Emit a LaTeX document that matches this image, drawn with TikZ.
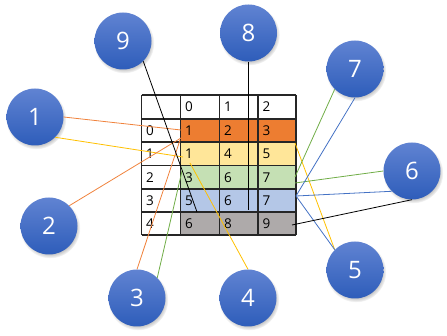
\documentclass[tikz,border=0pt]{standalone}
\usepackage{fontspec}
\setmainfont{Open Sans}
\usetikzlibrary{shadows}

\definecolor{ballTop}{RGB}{96,131,210}
\definecolor{ballBottom}{RGB}{46,93,186}
\definecolor{rowOrange}{RGB}{237,125,49}
\definecolor{rowYellow}{RGB}{255,230,153}
\definecolor{rowGreen}{RGB}{197,224,180}
\definecolor{rowBlue}{RGB}{180,199,231}
\definecolor{rowGray}{RGB}{174,170,170}
\definecolor{lnOrange}{RGB}{240,130,60}
\definecolor{lnYellow}{RGB}{255,192,0}
\definecolor{lnGreen}{RGB}{112,173,71}
\definecolor{lnBlue}{RGB}{68,114,196}

\begin{document}
\begin{tikzpicture}[x=1pt,y=-1pt,
    ball/.style={circle,minimum size=57pt,inner sep=0pt,top color=ballTop,bottom color=ballBottom,
      text=white,font=\fontsize{24}{24}\selectfont,
      circular drop shadow={shadow xshift=1pt,shadow yshift=-2pt,shadow scale=1.06,opacity=0.45}},
    cell/.style={anchor=west,inner sep=0pt,font=\fontsize{13.5}{14}\selectfont},
    grid/.style={black!85,line width=1.1pt},
    link/.style={line width=0.8pt}]
\useasboundingbox (0,0) rectangle (447,336);

% table
\fill[rowOrange] (180.5,119) rectangle (296,142);
\fill[rowYellow] (180.5,142) rectangle (296,165.5);
\fill[rowGreen] (180.5,165.5) rectangle (296,189);
\fill[rowBlue] (180.5,189) rectangle (296,212);
\fill[rowGray] (180.5,212) rectangle (296,235);
\foreach \y in {95,119,142,165.5,189,212,235}
  \draw[grid] (141.5,\y) -- (296,\y);
\foreach \x in {141.5,180.5,219.5,258,296}
  \draw[grid] (\x,95) -- (\x,235);

\node[cell] (h0) at (185,107) {0};
\node[cell] (h1) at (224,107) {1};
\node[cell] (h2) at (262.5,107) {2};
\foreach \r/\y/\a/\b/\c in {0/130.5/1/2/3, 1/153.75/1/4/5, 2/177.25/3/6/7, 3/200.5/5/6/7, 4/223.5/6/8/9} {
  \node[cell] (r\r) at (146,\y) {\r};
  \node[cell] (r\r a) at (185,\y) {\a};
  \node[cell] (r\r b) at (224,\y) {\b};
  \node[cell] (r\r c) at (262.5,\y) {\c};
}

% ends of the links
\coordinate (e1o) at (181,130);
\coordinate (e1y) at (183,157);
\coordinate (e2o) at (181,138);
\coordinate (e3o) at (180,140);
\coordinate (e3g) at (182,171);
\coordinate (e4y) at (190,163);
\coordinate (e5y) at (295,143);
\coordinate (eb) at (296,196);
\coordinate (e6g) at (295,183);
\coordinate (e6k) at (292,225);
\coordinate (e7g) at (295,177);
\coordinate (e8) at (248.5,210);
\coordinate (e9) at (197,212);

% circles
\node[ball] (1) at (35,117) {1};
\node[ball] (2) at (49,226) {2};
\node[ball] (3) at (137,298) {3};
\node[ball] (4) at (248,298) {4};
\node[ball] (5) at (355,270) {5};
\node[ball] (6) at (412,171) {6};
\node[ball] (7) at (355,69) {7};
\node[ball] (8) at (248.5,33) {8};
\node[ball] (9) at (123,41) {9};

\draw[link,lnOrange] (1.east) -- (e1o);
\draw[link,lnYellow] (1.south east) -- (e1y);
\draw[link,lnOrange] (2.north east) -- (e2o);
\draw[link,lnOrange] (3.north) -- (e3o);
\draw[link,lnGreen] (3.north east) -- (e3g);
\draw[link,lnYellow] (4.north) -- (e4y);
\draw[link,lnYellow] (5.north west) -- (e5y);
\draw[link,lnBlue] (5.north west) -- (eb);
\draw[link,lnGreen] (6.west) -- (e6g);
\draw[link,lnBlue] (6.south west) -- (eb);
\draw[link,black] (6.south) -- (e6k);
\draw[link,lnGreen] (7.south west) -- (e7g);
\draw[link,lnBlue] (7.south) -- (eb);
\draw[link,black] (8.south) -- (e8);
\draw[link,black] (9.south east) -- (e9);
\end{tikzpicture}
\end{document}
